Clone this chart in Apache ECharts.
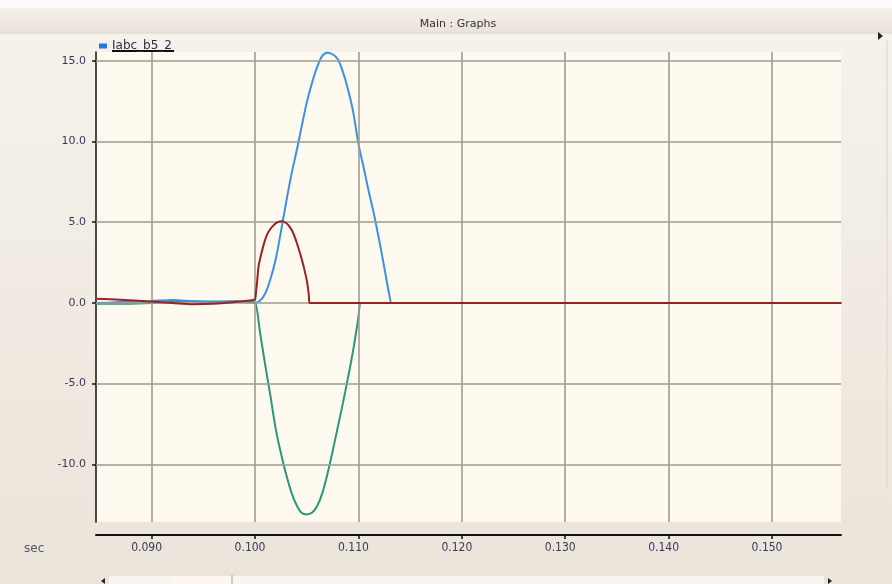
<!DOCTYPE html>
<html>
<head>
<meta charset="utf-8">
<script src="https://cdn.jsdelivr.net/npm/echarts@6/dist/echarts.min.js"></script>
<style>html,body{margin:0;padding:0;background:#f3eee6;}#c{width:892px;height:584px;}</style>
</head>
<body>
<div id="c"></div>
<script>
// ---- data (time in seconds, current values) ----
var xTicks = [0.09, 0.10, 0.11, 0.12, 0.13, 0.14, 0.15];
var yTicks = [-10, -5, 0, 5, 10, 15];
var xMin = 0.08462, xMax = 0.15667;
var yMin = -13.57, yMax = 15.54;

var tBlue = [0.0846, 0.086, 0.088, 0.090, 0.092, 0.094, 0.096, 0.098, 0.0995, 0.1000, 0.1005, 0.1010, 0.1015, 0.1020, 0.1025, 0.1030, 0.1035, 0.1040, 0.1045, 0.1050, 0.1055, 0.1060, 0.1065, 0.1070, 0.1075, 0.1080, 0.1085, 0.1090, 0.1095, 0.1100, 0.1105, 0.1110, 0.1115, 0.1120, 0.1125, 0.1130, 0.1132, 0.1135, 0.1567];
var iBlue = [0.0, 0.03, 0.08, 0.12, 0.18, 0.10, 0.05, 0.08, 0.02, 0.0, 0.15, 0.6, 1.5, 2.7, 4.4, 6.2, 7.9, 9.35, 10.9, 12.4, 13.6, 14.6, 15.3, 15.5, 15.4, 15.1, 14.3, 13.2, 11.8, 9.85, 8.4, 6.9, 5.5, 3.9, 2.2, 0.45, 0.0, 0.0, 0.0];

var tRed = [0.0846, 0.087, 0.090, 0.092, 0.094, 0.096, 0.098, 0.0995, 0.0999, 0.1000, 0.1001, 0.1002, 0.10035, 0.10065, 0.1009, 0.10114, 0.1014, 0.10178, 0.1022, 0.1026, 0.1030, 0.10324, 0.1036, 0.10389, 0.1042, 0.10454, 0.1048, 0.10503, 0.1052, 0.10528, 0.1055, 0.1567];
var iRed = [0.25, 0.2, 0.08, 0.0, -0.08, -0.05, 0.05, 0.15, 0.2, 0.2, 0.7, 1.3, 2.3, 3.15, 3.75, 4.2, 4.5, 4.8, 5.0, 5.05, 4.95, 4.8, 4.45, 4.0, 3.4, 2.65, 2.0, 1.3, 0.5, 0.0, 0.0, 0.0];

var tGreen = [0.0846, 0.087, 0.090, 0.092, 0.094, 0.096, 0.098, 0.0999, 0.1000, 0.1005, 0.1010, 0.1015, 0.1020, 0.1025, 0.1030, 0.1035, 0.1040, 0.1045, 0.1050, 0.1055, 0.1060, 0.1065, 0.1070, 0.1075, 0.1080, 0.1085, 0.1090, 0.1095, 0.1100, 0.1102, 0.1105, 0.1567];
var iGreen = [-0.05, -0.05, 0.0, 0.05, 0.1, 0.08, 0.1, 0.05, 0.05, -1.9, -3.9, -5.8, -7.8, -9.3, -10.6, -11.7, -12.5, -13.0, -13.1, -13.0, -12.6, -11.8, -10.6, -9.2, -7.7, -6.2, -4.6, -2.9, -0.9, 0.0, 0.0, 0.0];

function pairs(t, v) { return t.map(function (x, i) { return [x, v[i]]; }); }

var chart = echarts.init(document.getElementById('c'), null, { renderer: 'canvas', width: 892, height: 584 });

var labelColor = '#38385a';
var gridColor = '#a09b93';

var gridMarks = yTicks.map(function (v) { return { yAxis: v }; })
  .concat(xTicks.map(function (v) { return { xAxis: v }; }));

var option = {
  animation: false,
  backgroundColor: {
    type: 'linear', x: 0, y: 0, x2: 0, y2: 1,
    colorStops: [{ offset: 0, color: '#f6f2eb' }, { offset: 1, color: '#ebe4da' }]
  },
  title: {
    text: 'Main : Graphs',
    left: 453, top: 14, textAlign: 'center',
    textStyle: { fontSize: 11, fontWeight: 'normal', color: '#333333', fontFamily: 'DejaVu Sans' }
  },
  legend: {
    data: ['Iabc_b5_2'],
    left: 94, top: 35,
    icon: 'rect', itemWidth: 8, itemHeight: 5,
    selectedMode: false,
    textStyle: { fontSize: 12, color: '#2c2c48', fontFamily: 'DejaVu Sans' }
  },
  graphic: [
    { type: 'rect', z: -10, shape: { x: 0, y: 8, width: 892, height: 25 },
      style: { fill: { type: 'linear', x: 0, y: 0, x2: 0, y2: 1, colorStops: [{ offset: 0, color: '#f5f1ea' }, { offset: 1, color: '#e9e2d8' }] } } },
    { type: 'rect', z: -10, shape: { x: 0, y: 0, width: 892, height: 8 }, style: { fill: '#fcfbf9' } },
    { type: 'line', z: -9, shape: { x1: 0, y1: 33, x2: 892, y2: 33 }, style: { stroke: '#ddd6cb', lineWidth: 1 } },
    { type: 'line', shape: { x1: 112, y1: 51, x2: 174, y2: 51 }, style: { stroke: '#111111', lineWidth: 2 } },
    { type: 'text', left: 24, top: 543, style: { text: 'sec', fontSize: 12, fill: '#55556a', fontFamily: 'DejaVu Sans' } },
    { type: 'line', shape: { x1: 887, y1: 40, x2: 887, y2: 488 }, style: { stroke: '#dcd6cc', lineWidth: 1 } },
    { type: 'polygon', shape: { points: [[878, 32], [883, 36], [878, 40]] }, style: { fill: '#222222' } },
    { type: 'rect', shape: { x: 108, y: 575, width: 717, height: 12 }, style: { fill: '#f8f5f0', stroke: '#e0dad0', lineWidth: 1 } },
    { type: 'rect', shape: { x: 171, y: 576, width: 61, height: 10 }, style: { fill: '#fdf6ee' } },
    { type: 'line', shape: { x1: 232, y1: 575, x2: 232, y2: 584 }, style: { stroke: '#aaa49a', lineWidth: 1 } },
    { type: 'polygon', shape: { points: [[105, 578], [101, 581], [105, 584]] }, style: { fill: '#222222' } },
    { type: 'polygon', shape: { points: [[828, 578], [832, 581], [828, 584]] }, style: { fill: '#222222' } }
  ],
  grid: {
    left: 96, right: 51, top: 52, bottom: 62,
    show: true, backgroundColor: '#fffaf0', borderWidth: 0
  },
  xAxis: {
    type: 'value', min: xMin, max: xMax,
    position: 'bottom', offset: 13,
    axisLine: { onZero: false, lineStyle: { color: '#111111', width: 2 } },
    axisTick: { show: true, length: 4, customValues: xTicks, lineStyle: { color: '#111111', width: 1.5 } },
    axisLabel: {
      customValues: xTicks, margin: 7, fontSize: 12, color: labelColor,
      padding: [0, 10, 0, 0],
      fontFamily: 'DejaVu Sans Condensed, Liberation Sans Narrow, DejaVu Sans',
      formatter: function (v) { return v.toFixed(3); }
    },
    splitLine: { show: false }
  },
  yAxis: {
    type: 'value', min: yMin, max: yMax,
    axisLine: { show: true, onZero: false, lineStyle: { color: '#111111', width: 1.5 } },
    axisTick: { show: true, length: 4, customValues: yTicks, lineStyle: { color: '#111111', width: 1.5 } },
    axisLabel: {
      customValues: yTicks, margin: 10, fontSize: 11, color: labelColor,
      fontFamily: 'DejaVu Sans',
      formatter: function (v) { return v.toFixed(1); }
    },
    splitLine: { show: false }
  },
  series: [
    {
      name: 'grid', type: 'line', data: [[xMin, 0]], showSymbol: false, silent: true,
      lineStyle: { width: 0 }, z: 1,
      markLine: {
        silent: true, symbol: ['none', 'none'], animation: false,
        label: { show: false },
        lineStyle: { color: gridColor, width: 1.6, type: 'solid' },
        emphasis: { disabled: true },
        data: gridMarks
      }
    },
    {
      name: 'Iabc_b5_2 c', type: 'line', data: pairs(tGreen, iGreen), showSymbol: false, smooth: 0.3,
      lineStyle: { color: '#2f9678', width: 2 }, itemStyle: { color: '#2f9678' }, z: 3
    },
    {
      name: 'Iabc_b5_2', type: 'line', data: pairs(tBlue, iBlue), showSymbol: false, smooth: 0.3,
      lineStyle: { color: '#3f8fe2', width: 2 }, itemStyle: { color: '#1f78e0' }, z: 4
    },
    {
      name: 'Iabc_b5_2 b', type: 'line', data: pairs(tRed, iRed), showSymbol: false, smooth: 0.3,
      lineStyle: { color: '#9a2222', width: 2 }, itemStyle: { color: '#9a2222' }, z: 5
    }
  ]
};
chart.setOption(option);
</script>
</body>
</html>
